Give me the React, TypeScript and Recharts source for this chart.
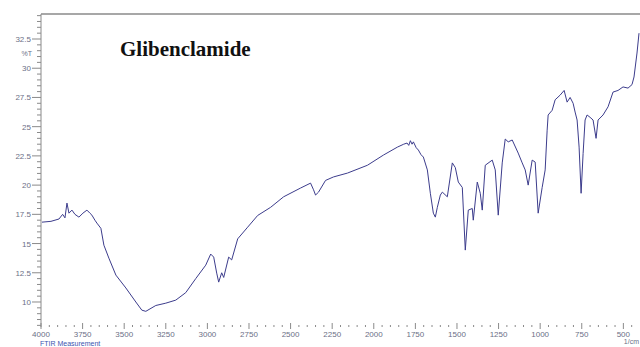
import React from "react";
import { LineChart, Line, XAxis, YAxis, ReferenceLine } from "recharts";

// FTIR transmittance spectrum of glibenclamide
const WAVENUMBERS = [
  3994, 3940, 3892, 3870, 3856, 3844, 3832, 3814, 3796, 3772, 3748, 3724, 3706, 3694, 3676, 3664,
  3640, 3622, 3592, 3550, 3490, 3430, 3394, 3370, 3310, 3250, 3190, 3130, 3070, 3010, 2980, 2962,
  2944, 2932, 2914, 2902, 2872, 2854, 2818, 2758, 2698, 2620, 2542, 2440, 2380, 2362, 2350, 2332,
  2290, 2242, 2158, 2038, 1942, 1858, 1820, 1800, 1790, 1780, 1770, 1762, 1745, 1732, 1716, 1702,
  1678, 1660, 1642, 1630, 1618, 1600, 1588, 1558, 1528, 1510, 1492, 1468, 1450, 1432, 1408, 1402,
  1378, 1360, 1348, 1330, 1288, 1270, 1252, 1228, 1210, 1192, 1168, 1132, 1108, 1090, 1072, 1048,
  1030, 1012, 988, 970, 958, 952, 928, 910, 880, 856, 838, 820, 802, 790, 778, 766, 754, 742, 730,
  718, 700, 682, 664, 652, 622, 592, 562, 532, 502, 472, 448, 436, 418, 406,
];

const TRANSMITTANCE = [
  16.83, 16.9, 17.1, 17.5, 17.2, 18.46, 17.6, 17.86, 17.5, 17.26, 17.6, 17.86, 17.6, 17.43, 17.0, 16.75,
  16.3, 14.86, 13.75, 12.3, 11.2, 10.0, 9.3, 9.2, 9.7, 9.9, 10.16, 10.8, 12.0, 13.15, 14.1, 13.84,
  12.47, 11.7, 12.5, 12.1, 13.84, 13.6, 15.4, 16.4, 17.4, 18.1, 19.0, 19.75, 20.17, 19.6, 19.15, 19.4,
  20.4, 20.7, 21.03, 21.7, 22.57, 23.25, 23.5, 23.6, 23.4, 23.8, 23.5, 23.7, 23.2, 23.0, 22.6, 22.4,
  21.3, 19.3, 17.6, 17.26, 18.1, 19.15, 19.4, 19.0, 21.9, 21.5, 20.26, 19.8, 14.44, 17.86, 18.0, 17.0,
  20.26, 19.3, 17.86, 21.7, 22.14, 21.3, 17.43, 21.9, 23.94, 23.7, 23.86, 22.74, 21.9, 21.3, 20.0, 22.14,
  21.97, 17.6, 19.8, 21.3, 24.7, 26.0, 26.4, 27.3, 27.7, 28.1, 27.1, 27.5, 27.0, 26.25, 25.57, 23.25, 19.3, 22.7, 25.57,
  26.0, 25.8, 25.57, 24.0, 25.57, 26.0, 26.7, 27.96, 28.1, 28.4, 28.3, 28.6, 29.25, 31.3, 33.0,
];

const X_MAJOR = [4000, 3750, 3500, 3250, 3000, 2750, 2500, 2250, 2000, 1750, 1500, 1250, 1000, 750, 500];
const Y_MAJOR = [10, 12.5, 15, 17.5, 20, 22.5, 25, 27.5, 30, 32.5];

const X_DOMAIN: [number, number] = [400, 4000];
const Y_DOMAIN: [number, number] = [7.86, 34.64];

const TITLE = "Glibenclamide";
const Y_UNIT = "%T";
const X_UNIT = "1/cm";
const FOOTER = "FTIR Measurement";

const spectrum = WAVENUMBERS.map((wn, i) => ({ wn, t: TRANSMITTANCE[i] }));

const xTicks: number[] = [];
for (let v = 4000; v >= 450; v -= 50) xTicks.push(v);
const yTicks: number[] = [];
for (let v = 8; v <= 34.5 + 1e-9; v += 0.5) yTicks.push(Math.round(v * 10) / 10);

const AXIS_GREY = "#8a8a8a";
const LABEL_COLOR = "#6b6f86";

const YTick = (props: any) => {
  const { x, y, payload } = props;
  const v = payload.value as number;
  const major = Y_MAJOR.some((m) => Math.abs(m - v) < 1e-6);
  return (
    <g>
      <line x1={x - (major ? 9 : 4)} x2={x} y1={y} y2={y} stroke={AXIS_GREY} strokeWidth={1} />
      {major && (
        <text x={x - 10} y={y} dy={3} textAnchor="end" fontSize={8} fill={LABEL_COLOR} fontFamily="Liberation Sans, Arial, sans-serif">
          {String(v)}
        </text>
      )}
    </g>
  );
};

const XTick = (props: any) => {
  const { x, y, payload } = props;
  const v = payload.value as number;
  const major = X_MAJOR.includes(v);
  return (
    <g>
      <line x1={x} x2={x} y1={y - (major ? 4 : 2)} y2={y + (major ? 2 : 0)} stroke={AXIS_GREY} strokeWidth={1} />
      {major && (
        <text x={x} y={y} dy={10} textAnchor="middle" fontSize={8} fill={LABEL_COLOR} fontFamily="Liberation Sans, Arial, sans-serif">
          {String(v)}
        </text>
      )}
    </g>
  );
};

export default function App() {
  return (
    <div style={{ position: "fixed", left: 0, top: 0, width: 640, height: 347, background: "#fff" }}>
      <LineChart width={640} height={347} data={spectrum} margin={{ top: 14, right: 0, left: 0, bottom: 0 }}>
        <XAxis
          dataKey="wn"
          type="number"
          domain={X_DOMAIN}
          reversed
          ticks={xTicks}
          interval={0}
          height={20}
          tickSize={0}
          tickMargin={0}
          axisLine={false}
          tickLine={false}
          tick={<XTick />}
          allowDataOverflow
        />
        <YAxis
          type="number"
          domain={Y_DOMAIN}
          ticks={yTicks}
          interval={0}
          width={41}
          tickSize={0}
          tickMargin={0}
          axisLine={{ stroke: AXIS_GREY, strokeWidth: 1 }}
          tickLine={false}
          tick={<YTick />}
          allowDataOverflow
        />
        <ReferenceLine y={Y_DOMAIN[1]} stroke={AXIS_GREY} strokeWidth={1.5} ifOverflow="extendDomain" />
        <Line
          type="linear"
          dataKey="t"
          stroke="#3c3c8c"
          strokeWidth={1}
          dot={false}
          isAnimationActive={false}
        />
        <text x={120} y={56} fontSize={21} fontWeight="bold" fontFamily="Liberation Serif, Times New Roman, serif" fill="#111">
          {TITLE}
        </text>
        <text x={32} y={56} textAnchor="end" fontSize={7} fill={LABEL_COLOR} fontFamily="Liberation Sans, Arial, sans-serif">
          {Y_UNIT}
        </text>
        <text x={639} y={344} textAnchor="end" fontSize={7} fill={LABEL_COLOR} fontFamily="Liberation Sans, Arial, sans-serif">
          {X_UNIT}
        </text>
        <text x={40} y={346} fontSize={7} fill="#3a55b0" fontFamily="Liberation Sans, Arial, sans-serif">
          {FOOTER}
        </text>
      </LineChart>
    </div>
  );
}
